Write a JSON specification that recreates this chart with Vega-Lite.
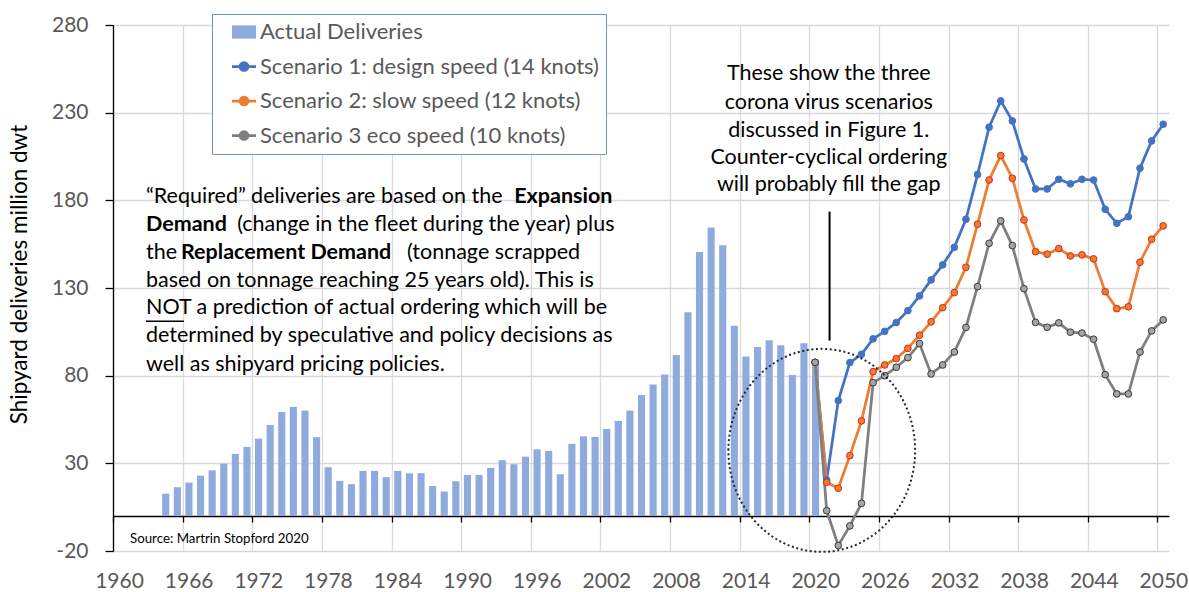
{
  "$schema": "https://vega.github.io/schema/vega-lite/v6.json",
  "width": 1056,
  "height": 526,
  "autosize": {"type": "none"},
  "padding": {"left": 113, "top": 25, "right": 20, "bottom": 41},
  "config": {"font": "Lato", "view": {"stroke": null}},
  "datasets": {
    "actual": [
      {"year": "1964", "series": "Actual Deliveries", "value": 12.7},
      {"year": "1965", "series": "Actual Deliveries", "value": 16.4},
      {"year": "1966", "series": "Actual Deliveries", "value": 19.0},
      {"year": "1967", "series": "Actual Deliveries", "value": 23.0},
      {"year": "1968", "series": "Actual Deliveries", "value": 26.0},
      {"year": "1969", "series": "Actual Deliveries", "value": 29.8},
      {"year": "1970", "series": "Actual Deliveries", "value": 35.4},
      {"year": "1971", "series": "Actual Deliveries", "value": 39.4},
      {"year": "1972", "series": "Actual Deliveries", "value": 44.1},
      {"year": "1973", "series": "Actual Deliveries", "value": 51.9},
      {"year": "1974", "series": "Actual Deliveries", "value": 59.3},
      {"year": "1975", "series": "Actual Deliveries", "value": 62.2},
      {"year": "1976", "series": "Actual Deliveries", "value": 60.1},
      {"year": "1977", "series": "Actual Deliveries", "value": 44.9},
      {"year": "1978", "series": "Actual Deliveries", "value": 27.8},
      {"year": "1979", "series": "Actual Deliveries", "value": 20.0},
      {"year": "1980", "series": "Actual Deliveries", "value": 18.1},
      {"year": "1981", "series": "Actual Deliveries", "value": 25.7},
      {"year": "1982", "series": "Actual Deliveries", "value": 25.7},
      {"year": "1983", "series": "Actual Deliveries", "value": 22.1},
      {"year": "1984", "series": "Actual Deliveries", "value": 25.7},
      {"year": "1985", "series": "Actual Deliveries", "value": 24.3},
      {"year": "1986", "series": "Actual Deliveries", "value": 24.4},
      {"year": "1987", "series": "Actual Deliveries", "value": 17.1},
      {"year": "1988", "series": "Actual Deliveries", "value": 13.9},
      {"year": "1989", "series": "Actual Deliveries", "value": 19.8},
      {"year": "1990", "series": "Actual Deliveries", "value": 23.4},
      {"year": "1991", "series": "Actual Deliveries", "value": 23.4},
      {"year": "1992", "series": "Actual Deliveries", "value": 27.4},
      {"year": "1993", "series": "Actual Deliveries", "value": 31.8},
      {"year": "1994", "series": "Actual Deliveries", "value": 29.5},
      {"year": "1995", "series": "Actual Deliveries", "value": 33.8},
      {"year": "1996", "series": "Actual Deliveries", "value": 38.0},
      {"year": "1997", "series": "Actual Deliveries", "value": 37.1},
      {"year": "1998", "series": "Actual Deliveries", "value": 23.8},
      {"year": "1999", "series": "Actual Deliveries", "value": 41.1},
      {"year": "2000", "series": "Actual Deliveries", "value": 45.4},
      {"year": "2001", "series": "Actual Deliveries", "value": 45.1},
      {"year": "2002", "series": "Actual Deliveries", "value": 49.6},
      {"year": "2003", "series": "Actual Deliveries", "value": 54.2},
      {"year": "2004", "series": "Actual Deliveries", "value": 60.1},
      {"year": "2005", "series": "Actual Deliveries", "value": 69.0},
      {"year": "2006", "series": "Actual Deliveries", "value": 74.9},
      {"year": "2007", "series": "Actual Deliveries", "value": 80.6},
      {"year": "2008", "series": "Actual Deliveries", "value": 91.8},
      {"year": "2009", "series": "Actual Deliveries", "value": 116.2},
      {"year": "2010", "series": "Actual Deliveries", "value": 150.6},
      {"year": "2011", "series": "Actual Deliveries", "value": 164.5},
      {"year": "2012", "series": "Actual Deliveries", "value": 154.4},
      {"year": "2013", "series": "Actual Deliveries", "value": 108.4},
      {"year": "2014", "series": "Actual Deliveries", "value": 90.9},
      {"year": "2015", "series": "Actual Deliveries", "value": 96.4},
      {"year": "2016", "series": "Actual Deliveries", "value": 100.2},
      {"year": "2017", "series": "Actual Deliveries", "value": 97.3},
      {"year": "2018", "series": "Actual Deliveries", "value": 80.4},
      {"year": "2019", "series": "Actual Deliveries", "value": 98.5},
      {"year": "2020", "series": "Actual Deliveries", "value": 87.1}
    ],
    "scen": [
      {"year": "2020", "series": "Scenario 1: design speed (14 knots)", "value": 87.6},
      {"year": "2021", "series": "Scenario 1: design speed (14 knots)", "value": 20.5},
      {"year": "2022", "series": "Scenario 1: design speed (14 knots)", "value": 65.8},
      {"year": "2023", "series": "Scenario 1: design speed (14 knots)", "value": 87.5},
      {"year": "2024", "series": "Scenario 1: design speed (14 knots)", "value": 92.2},
      {"year": "2025", "series": "Scenario 1: design speed (14 knots)", "value": 101.0},
      {"year": "2026", "series": "Scenario 1: design speed (14 knots)", "value": 105.3},
      {"year": "2027", "series": "Scenario 1: design speed (14 knots)", "value": 110.3},
      {"year": "2028", "series": "Scenario 1: design speed (14 knots)", "value": 117.1},
      {"year": "2029", "series": "Scenario 1: design speed (14 knots)", "value": 125.5},
      {"year": "2030", "series": "Scenario 1: design speed (14 knots)", "value": 134.6},
      {"year": "2031", "series": "Scenario 1: design speed (14 knots)", "value": 143.2},
      {"year": "2032", "series": "Scenario 1: design speed (14 knots)", "value": 153.2},
      {"year": "2033", "series": "Scenario 1: design speed (14 knots)", "value": 169.2},
      {"year": "2034", "series": "Scenario 1: design speed (14 knots)", "value": 194.7},
      {"year": "2035", "series": "Scenario 1: design speed (14 knots)", "value": 221.7},
      {"year": "2036", "series": "Scenario 1: design speed (14 knots)", "value": 236.7},
      {"year": "2037", "series": "Scenario 1: design speed (14 knots)", "value": 225.3},
      {"year": "2038", "series": "Scenario 1: design speed (14 knots)", "value": 203.6},
      {"year": "2039", "series": "Scenario 1: design speed (14 knots)", "value": 186.5},
      {"year": "2040", "series": "Scenario 1: design speed (14 knots)", "value": 186.5},
      {"year": "2041", "series": "Scenario 1: design speed (14 knots)", "value": 192.0},
      {"year": "2042", "series": "Scenario 1: design speed (14 knots)", "value": 189.4},
      {"year": "2043", "series": "Scenario 1: design speed (14 knots)", "value": 192.0},
      {"year": "2044", "series": "Scenario 1: design speed (14 knots)", "value": 191.6},
      {"year": "2045", "series": "Scenario 1: design speed (14 knots)", "value": 174.9},
      {"year": "2046", "series": "Scenario 1: design speed (14 knots)", "value": 166.9},
      {"year": "2047", "series": "Scenario 1: design speed (14 knots)", "value": 170.7},
      {"year": "2048", "series": "Scenario 1: design speed (14 knots)", "value": 198.3},
      {"year": "2049", "series": "Scenario 1: design speed (14 knots)", "value": 213.9},
      {"year": "2050", "series": "Scenario 1: design speed (14 knots)", "value": 223.4},
      {"year": "2020", "series": "Scenario 2: slow speed (12 knots)", "value": 87.6},
      {"year": "2021", "series": "Scenario 2: slow speed (12 knots)", "value": 19.2},
      {"year": "2022", "series": "Scenario 2: slow speed (12 knots)", "value": 15.8},
      {"year": "2023", "series": "Scenario 2: slow speed (12 knots)", "value": 34.4},
      {"year": "2024", "series": "Scenario 2: slow speed (12 knots)", "value": 54.2},
      {"year": "2025", "series": "Scenario 2: slow speed (12 knots)", "value": 82.3},
      {"year": "2026", "series": "Scenario 2: slow speed (12 knots)", "value": 86.1},
      {"year": "2027", "series": "Scenario 2: slow speed (12 knots)", "value": 89.7},
      {"year": "2028", "series": "Scenario 2: slow speed (12 knots)", "value": 95.6},
      {"year": "2029", "series": "Scenario 2: slow speed (12 knots)", "value": 103.1},
      {"year": "2030", "series": "Scenario 2: slow speed (12 knots)", "value": 110.7},
      {"year": "2031", "series": "Scenario 2: slow speed (12 knots)", "value": 118.8},
      {"year": "2032", "series": "Scenario 2: slow speed (12 knots)", "value": 127.4},
      {"year": "2033", "series": "Scenario 2: slow speed (12 knots)", "value": 141.8},
      {"year": "2034", "series": "Scenario 2: slow speed (12 knots)", "value": 166.4},
      {"year": "2035", "series": "Scenario 2: slow speed (12 knots)", "value": 191.6},
      {"year": "2036", "series": "Scenario 2: slow speed (12 knots)", "value": 205.5},
      {"year": "2037", "series": "Scenario 2: slow speed (12 knots)", "value": 192.6},
      {"year": "2038", "series": "Scenario 2: slow speed (12 knots)", "value": 168.8},
      {"year": "2039", "series": "Scenario 2: slow speed (12 knots)", "value": 150.7},
      {"year": "2040", "series": "Scenario 2: slow speed (12 knots)", "value": 149.3},
      {"year": "2041", "series": "Scenario 2: slow speed (12 knots)", "value": 152.5},
      {"year": "2042", "series": "Scenario 2: slow speed (12 knots)", "value": 148.3},
      {"year": "2043", "series": "Scenario 2: slow speed (12 knots)", "value": 148.9},
      {"year": "2044", "series": "Scenario 2: slow speed (12 knots)", "value": 146.6},
      {"year": "2045", "series": "Scenario 2: slow speed (12 knots)", "value": 127.9},
      {"year": "2046", "series": "Scenario 2: slow speed (12 knots)", "value": 118.2},
      {"year": "2047", "series": "Scenario 2: slow speed (12 knots)", "value": 119.3},
      {"year": "2048", "series": "Scenario 2: slow speed (12 knots)", "value": 144.7},
      {"year": "2049", "series": "Scenario 2: slow speed (12 knots)", "value": 157.8},
      {"year": "2050", "series": "Scenario 2: slow speed (12 knots)", "value": 165.4},
      {"year": "2020", "series": "Scenario 3 eco speed (10 knots)", "value": 87.6},
      {"year": "2021", "series": "Scenario 3 eco speed (10 knots)", "value": 3.0},
      {"year": "2022", "series": "Scenario 3 eco speed (10 knots)", "value": -16.9},
      {"year": "2023", "series": "Scenario 3 eco speed (10 knots)", "value": -5.7},
      {"year": "2024", "series": "Scenario 3 eco speed (10 knots)", "value": 7.2},
      {"year": "2025", "series": "Scenario 3 eco speed (10 knots)", "value": 76.0},
      {"year": "2026", "series": "Scenario 3 eco speed (10 knots)", "value": 80.0},
      {"year": "2027", "series": "Scenario 3 eco speed (10 knots)", "value": 84.8},
      {"year": "2028", "series": "Scenario 3 eco speed (10 knots)", "value": 90.3},
      {"year": "2029", "series": "Scenario 3 eco speed (10 knots)", "value": 98.3},
      {"year": "2030", "series": "Scenario 3 eco speed (10 knots)", "value": 81.0},
      {"year": "2031", "series": "Scenario 3 eco speed (10 knots)", "value": 86.1},
      {"year": "2032", "series": "Scenario 3 eco speed (10 knots)", "value": 93.5},
      {"year": "2033", "series": "Scenario 3 eco speed (10 knots)", "value": 107.5},
      {"year": "2034", "series": "Scenario 3 eco speed (10 knots)", "value": 130.8},
      {"year": "2035", "series": "Scenario 3 eco speed (10 knots)", "value": 155.5},
      {"year": "2036", "series": "Scenario 3 eco speed (10 knots)", "value": 168.3},
      {"year": "2037", "series": "Scenario 3 eco speed (10 knots)", "value": 154.2},
      {"year": "2038", "series": "Scenario 3 eco speed (10 knots)", "value": 129.6},
      {"year": "2039", "series": "Scenario 3 eco speed (10 knots)", "value": 110.4},
      {"year": "2040", "series": "Scenario 3 eco speed (10 knots)", "value": 107.6},
      {"year": "2041", "series": "Scenario 3 eco speed (10 knots)", "value": 110.1},
      {"year": "2042", "series": "Scenario 3 eco speed (10 knots)", "value": 104.8},
      {"year": "2043", "series": "Scenario 3 eco speed (10 knots)", "value": 104.3},
      {"year": "2044", "series": "Scenario 3 eco speed (10 knots)", "value": 100.8},
      {"year": "2045", "series": "Scenario 3 eco speed (10 knots)", "value": 80.6},
      {"year": "2046", "series": "Scenario 3 eco speed (10 knots)", "value": 69.6},
      {"year": "2047", "series": "Scenario 3 eco speed (10 knots)", "value": 69.6},
      {"year": "2048", "series": "Scenario 3 eco speed (10 knots)", "value": 93.5},
      {"year": "2049", "series": "Scenario 3 eco speed (10 knots)", "value": 105.5},
      {"year": "2050", "series": "Scenario 3 eco speed (10 knots)", "value": 111.8}
    ],
    "circle": [{"date": "2021-01-29", "value": 37.4}],
    "pointer": [{"date": "2021-10-01", "value": 100, "value2": 173.6}],
    "underline": [{"date": "1962-11-04", "date2": "1966-02-14", "value": 111.0}],
    "rightText": [
      {"date": "2021-09-06", "value": 252.1, "text": "These show the three"},
      {"date": "2021-09-06", "value": 235.7, "text": "corona virus scenarios"},
      {"date": "2021-09-06", "value": 219.8, "text": "discussed in Figure 1."},
      {"date": "2021-09-06", "value": 204.0, "text": "Counter-cyclical ordering"},
      {"date": "2021-09-06", "value": 188.8, "text": "will probably fill the gap"}
    ],
    "leftNormal": [
      {"date": "1962-11-04", "value": 182.1, "text": "“Required” deliveries are based on the"},
      {"date": "1962-11-04", "value": 150.2, "text": "the"},
      {"date": "1962-11-04", "value": 134.0, "text": "based on tonnage reaching 25 years old). This is"},
      {"date": "1962-11-04", "value": 118.5, "text": "NOT a prediction of actual ordering which will be"},
      {"date": "1962-11-04", "value": 102.7, "text": "determined by speculative and policy decisions as"},
      {"date": "1962-11-04", "value": 86.1, "text": "well as shipyard pricing policies."}
    ],
    "rightNormal": [
      {"date": "2003-03-20", "value": 166.0, "text": "(change in the fleet during the year) plus"},
      {"date": "2000-04-04", "value": 150.2, "text": "(tonnage scrapped"}
    ],
    "leftBold": [
      {"date": "1962-11-04", "value": 166.0, "text": "Demand"},
      {"date": "1965-11-10", "value": 150.2, "text": "Replacement Demand"}
    ],
    "rightBold": [
      {"date": "2003-01-16", "value": 182.1, "text": "Expansion"}
    ],
    "source": [{"date": "1961-06-19", "value": -13.3, "text": "Source: Martrin Stopford 2020"}]
  },
  "layer": [
    {
      "data": {"name": "actual"},
      "mark": {"type": "bar", "width": {"band": 0.7}},
      "encoding": {
        "x": {
          "field": "year", "type": "temporal", "timeUnit": "utcyear",
          "scale": {"type": "utc", "domain": [{"year": 1960, "utc": true}, {"year": 2051, "utc": true}]},
          "axis": {
            "orient": "bottom", "title": null, "format": "%Y",
            "values": [{"year": 1960, "utc": true}, {"year": 1966, "utc": true}, {"year": 1972, "utc": true}, {"year": 1978, "utc": true}, {"year": 1984, "utc": true}, {"year": 1990, "utc": true}, {"year": 1996, "utc": true}, {"year": 2002, "utc": true}, {"year": 2008, "utc": true}, {"year": 2014, "utc": true}, {"year": 2020, "utc": true}, {"year": 2026, "utc": true}, {"year": 2032, "utc": true}, {"year": 2038, "utc": true}, {"year": 2044, "utc": true}, {"year": 2050, "utc": true}],
            "domain": false, "ticks": false, "grid": true, "gridColor": "#D9D9D9", "gridWidth": 1.3,
            "labelFontSize": 21, "labelColor": "#595959", "labelPadding": 30, "labelOffset": 6,
            "labelFlush": false, "labelOverlap": false, "labelBaseline": "middle"
          }
        },
        "y": {
          "field": "value", "type": "quantitative",
          "scale": {"domain": [-20, 280], "nice": false, "zero": false},
          "axis": {
            "values": [-20, 30, 80, 130, 180, 230, 280],
            "labelExpr": "replace(datum.label, '\u2212', '-')",
            "title": "Shipyard deliveries million dwt", "titleFontSize": 22.5, "titleFontWeight": "normal", "titleColor": "#000000", "titlePadding": 20, "titleY": 249,
            "grid": true, "gridColor": "#D9D9D9", "gridWidth": 1.3,
            "domainColor": "#000000", "domainWidth": 1.3, "tickColor": "#000000", "tickSize": 8, "tickWidth": 1.3,
            "labelFontSize": 21, "labelColor": "#595959", "labelPadding": 17
          }
        },
        "color": {
          "field": "series", "type": "nominal",
          "scale": {
            "domain": ["Actual Deliveries", "Scenario 1: design speed (14 knots)", "Scenario 2: slow speed (12 knots)", "Scenario 3 eco speed (10 knots)"],
            "range": ["#8FAADC", "#4472C4", "#ED7D31", "#7F7F7F"]
          },
          "legend": {
            "orient": "none", "legendX": 99, "legendY": -11, "title": null,
            "strokeColor": "#7093D4", "fillColor": "#FFFFFF", "padding": 7,
            "labelFontSize": 22, "labelColor": "#595959", "labelFont": "Lato", "labelOffset": 5, "labelLimit": 500,
            "rowPadding": 12.5, "symbolSize": 576, "symbolOffset": 14,
            "labelExpr": "datum.label + '\u2002\u2005'",
            "encode": {
              "symbols": {
                "update": {
                  "shape": {"signal": "datum.index === 0 ? 'M-1,-0.55H1V0.55H-1Z' : 'M-1,0H1M-0.33,0A0.33,0.33,0,1,1,0.33,0A0.33,0.33,0,1,1,-0.33,0Z'"},
                  "fill": {"signal": "['#8FAADC','#4472C4','#ED7D31','#A5A5A5'][datum.index]"},
                  "stroke": {"signal": "['#8FAADC','#4472C4','#ED7D31','#7F7F7F'][datum.index]"},
                  "strokeWidth": {"signal": "datum.index === 0 ? 0 : 2.75"},
                  "opacity": {"value": 1}
                }
              }
            }
          }
        }
      }
    },
    {
      "data": {"name": "scen"},
      "mark": {"type": "line", "strokeWidth": 2.75},
      "encoding": {
        "x": {
          "field": "year", "type": "temporal", "timeUnit": "utcyear", "bandPosition": 0.5,
          "axis": {
            "orient": "bottom", "offset": -35, "title": null, "labels": false, "grid": false,
            "values": [{"year": 1960, "utc": true}, {"year": 1966, "utc": true}, {"year": 1972, "utc": true}, {"year": 1978, "utc": true}, {"year": 1984, "utc": true}, {"year": 1990, "utc": true}, {"year": 1996, "utc": true}, {"year": 2002, "utc": true}, {"year": 2008, "utc": true}, {"year": 2014, "utc": true}, {"year": 2020, "utc": true}, {"year": 2026, "utc": true}, {"year": 2032, "utc": true}, {"year": 2038, "utc": true}, {"year": 2044, "utc": true}, {"year": 2050, "utc": true}],
            "domain": true, "domainColor": "#000000", "domainWidth": 1.3,
            "ticks": true, "tickColor": "#000000", "tickSize": 6, "tickWidth": 1.3
          }
        },
        "y": {"field": "value", "type": "quantitative"},
        "color": {"field": "series", "type": "nominal"}
      }
    },
    {
      "data": {"name": "scen"},
      "mark": {"type": "point", "shape": "circle", "filled": true, "size": 45, "strokeWidth": 1, "opacity": 1},
      "encoding": {
        "x": {"field": "year", "type": "temporal", "timeUnit": "utcyear", "bandPosition": 0.5, "axis": null},
        "y": {"field": "value", "type": "quantitative"},
        "fill": {
          "field": "series", "type": "nominal", "legend": null,
          "scale": {"domain": ["Scenario 1: design speed (14 knots)", "Scenario 2: slow speed (12 knots)", "Scenario 3 eco speed (10 knots)"], "range": ["#4472C4", "#ED7D31", "#A5A5A5"]}
        },
        "stroke": {
          "field": "series", "type": "nominal", "legend": null,
          "scale": {"domain": ["Scenario 1: design speed (14 knots)", "Scenario 2: slow speed (12 knots)", "Scenario 3 eco speed (10 knots)"], "range": ["#4472C4", "#D62A1E", "#3A3A3A"]}
        }
      }
    },
    {
      "data": {"name": "circle"},
      "mark": {"type": "point", "shape": "M-0.92,0A0.92,1,0,1,1,0.92,0A0.92,1,0,1,1,-0.92,0Z", "size": 41209, "filled": false, "stroke": "#222A35", "strokeWidth": 2, "strokeDash": [2, 2.6], "opacity": 1},
      "encoding": {
        "x": {"field": "date", "type": "temporal", "axis": null},
        "y": {"field": "value", "type": "quantitative"}
      }
    },
    {
      "data": {"name": "pointer"},
      "mark": {"type": "rule", "color": "#000000", "strokeWidth": 2},
      "encoding": {
        "x": {"field": "date", "type": "temporal", "axis": null},
        "y": {"field": "value", "type": "quantitative"},
        "y2": {"field": "value2"}
      }
    },
    {
      "data": {"name": "underline"},
      "mark": {"type": "rule", "color": "#000000", "strokeWidth": 1.5},
      "encoding": {
        "x": {"field": "date", "type": "temporal", "axis": null},
        "x2": {"field": "date2"},
        "y": {"field": "value", "type": "quantitative"}
      }
    },
    {
      "data": {"name": "rightText"},
      "mark": {"type": "text", "align": "center", "baseline": "middle", "fontSize": 21.5, "color": "#000000"},
      "encoding": {
        "x": {"field": "date", "type": "temporal", "axis": null},
        "y": {"field": "value", "type": "quantitative"},
        "text": {"field": "text"}
      }
    },
    {
      "data": {"name": "leftNormal"},
      "mark": {"type": "text", "align": "left", "baseline": "middle", "fontSize": 21.5, "color": "#000000"},
      "encoding": {
        "x": {"field": "date", "type": "temporal", "axis": null},
        "y": {"field": "value", "type": "quantitative"},
        "text": {"field": "text"}
      }
    },
    {
      "data": {"name": "rightNormal"},
      "mark": {"type": "text", "align": "right", "baseline": "middle", "fontSize": 21.5, "color": "#000000"},
      "encoding": {
        "x": {"field": "date", "type": "temporal", "axis": null},
        "y": {"field": "value", "type": "quantitative"},
        "text": {"field": "text"}
      }
    },
    {
      "data": {"name": "leftBold"},
      "mark": {"type": "text", "align": "left", "baseline": "middle", "fontSize": 21.5, "fontWeight": "bold", "color": "#000000"},
      "encoding": {
        "x": {"field": "date", "type": "temporal", "axis": null},
        "y": {"field": "value", "type": "quantitative"},
        "text": {"field": "text"}
      }
    },
    {
      "data": {"name": "rightBold"},
      "mark": {"type": "text", "align": "right", "baseline": "middle", "fontSize": 21.5, "fontWeight": "bold", "color": "#000000"},
      "encoding": {
        "x": {"field": "date", "type": "temporal", "axis": null},
        "y": {"field": "value", "type": "quantitative"},
        "text": {"field": "text"}
      }
    },
    {
      "data": {"name": "source"},
      "mark": {"type": "text", "align": "left", "baseline": "middle", "fontSize": 13.3, "color": "#000000"},
      "encoding": {
        "x": {"field": "date", "type": "temporal", "axis": null},
        "y": {"field": "value", "type": "quantitative"},
        "text": {"field": "text"}
      }
    }
  ],
  "resolve": {"axis": {"x": "independent"}}
}
